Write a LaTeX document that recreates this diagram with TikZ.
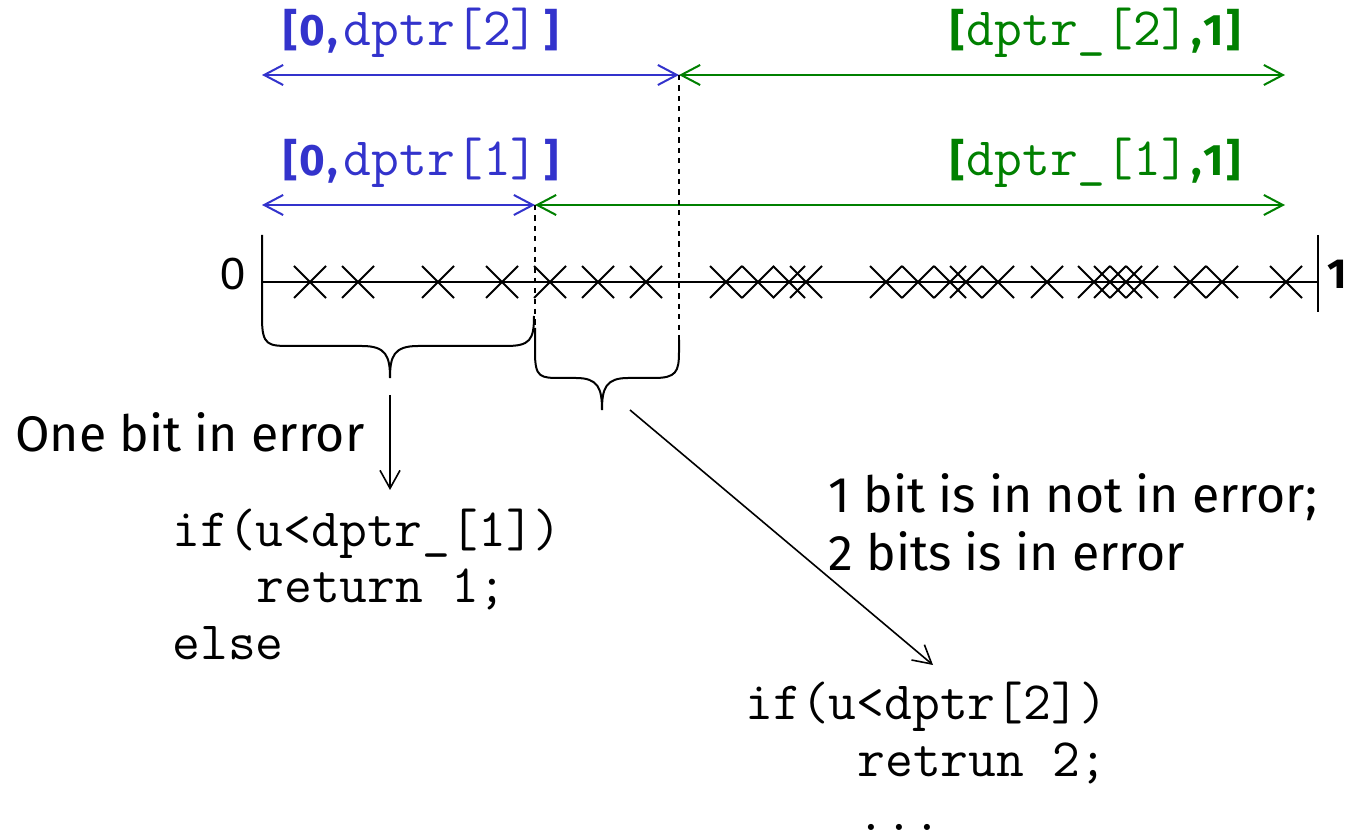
\documentclass[tikz,border=0pt]{standalone}
\usepackage{fontspec}
\usetikzlibrary{arrows.meta}
\newfontfamily\hand{Fira Sans}
\newfontfamily\arial{Liberation Sans}
\definecolor{rangeblue}{RGB}{51,51,204}
\definecolor{rangegreen}{RGB}{0,128,0}
\tikzset{
  axisline/.style={line width=1pt, black},
  xmark/.style={line width=1pt, black},
  interval/.style={line width=1pt, {Straight Barb[length=9.5pt,width=10pt]}-{Straight Barb[length=9.5pt,width=10pt]}},
  guide/.style={line width=0.7pt, dash pattern=on 2.6pt off 2.6pt},
  bracket/.style={line width=1pt},
  pointer/.style={line width=0.8pt, -{Straight Barb[length=9pt,width=10pt]}},
  code/.style={inner sep=0pt, anchor=base west, font=\ttfamily\fontsize{27}{28}\selectfont},
  handtext/.style={inner sep=0pt, anchor=base west, font=\hand\fontsize{25}{28}\selectfont},
  rangelabel/.style={inner sep=0pt, anchor=base west},
}
\newcommand{\bk}[1]{{\hand\bfseries\fontsize{22}{24}\selectfont #1}}
\newcommand{\mono}[1]{{\ttfamily\fontsize{27}{28}\selectfont #1}}
\begin{document}
\begin{tikzpicture}[x=0.5pt,y=-0.5pt]
\useasboundingbox (0,0) rectangle (1350,839);

% end points of the interval arrows
\coordinate (a0) at (262,75);
\coordinate (a2) at (679,75);
\coordinate (aE) at (1285,75);
\coordinate (b0) at (262,205);
\coordinate (b1) at (535,205);
\coordinate (bE) at (1285,205);

% interval labels
\node[rangelabel, text=rangeblue] (l02) at (283,46) {\bk{[\kern1pt0\kern1pt,}\kern3pt\mono{dptr[2]}\kern3pt\bk{]}};
\node[rangelabel, text=rangegreen] (l2E) at (950,46) {\bk{[}\kern1pt\mono{dptr\_[2]}\bk{\kern1pt,\kern1pt1\kern1pt]}};
\node[rangelabel, text=rangeblue] (l01) at (283,176) {\bk{[\kern1pt0\kern1pt,}\kern3pt\mono{dptr[1]}\kern3pt\bk{]}};
\node[rangelabel, text=rangegreen] (l1E) at (950,176) {\bk{[}\kern1pt\mono{dptr\_[1]}\bk{\kern1pt,\kern1pt1\kern1pt]}};

% interval arrows
\draw[interval, rangeblue] (a0) -- (a2);
\draw[interval, rangegreen] (a2) -- (aE);
\draw[interval, rangeblue] (b0) -- (b1);
\draw[interval, rangegreen] (b1) -- (bE);

% dashed guides down to the axis
\coordinate (g1) at (535,335);
\coordinate (g2) at (679,345);
\draw[guide] (b1) -- (g1);
\draw[guide] (a2) -- (g2);

% the unit interval with its end ticks
\coordinate (x0) at (262,282);
\coordinate (x1) at (1318,282);
\draw[axisline] (x0) -- (x1);
\draw[axisline] (1318,235) -- (1318,312);
\node[inner sep=0pt, font=\arial\fontsize{22.5}{24}\selectfont] (zero) at (233,274) {0};
\node[inner sep=0pt, anchor=west, font=\hand\bfseries\fontsize{21}{24}\selectfont] (one) at (1327,274) {1};

% sampled points
\foreach \p in {310,358,438,502,550,598,646,726,758,789,806,886,918,950,966,998,1047,1094,1110,1126,1142,1190,1222,1286}
  \draw[xmark] (\p-16,266) -- (\p+16,298) (\p-16,298) -- (\p+16,266);

% braces under the first two sub-intervals
\coordinate (t1) at (390,378);
\coordinate (t2) at (602,410);
\draw[bracket] (262,235) -- (262,318) .. controls (262,346) and (268,346) .. (292,346)
  -- (362,346) .. controls (386,346) and (390,356) .. (t1)
  .. controls (390,356) and (394,346) .. (418,346)
  -- (506,346) .. controls (530,346) and (534,340) .. (534,316);
\draw[bracket] (535,328) -- (535,352) .. controls (535,378) and (540,378) .. (562,378)
  -- (576,378) .. controls (598,378) and (602,388) .. (t2)
  .. controls (602,388) and (606,378) .. (628,378)
  -- (654,378) .. controls (676,378) and (679,372) .. (679,352) -- (679,340);

% pointers to the code
\coordinate (p1s) at (390,395);
\coordinate (p1e) at (390,490);
\coordinate (p2s) at (630,410);
\coordinate (p2e) at (933,665);
\draw[pointer] (p1s) -- (p1e);
\draw[pointer] (p2s) -- (p2e);

\node[handtext] (err1) at (15,452) {One bit in error};
\node[handtext] (err2a) at (828,513) {1 bit is in not in error;};
\node[handtext] (err2b) at (828,571) {2 bits is in error};

% code fragments
\node[code] (c1a) at (172,546) {if(u<dptr\_[1])};
\node[code] (c1b) at (256,603) {return 1;};
\node[code] (c1c) at (172,660) {else};
\node[code] (c2a) at (745,719) {if(u<dptr[2])};
\node[code] (c2b) at (857,776) {retrun 2;};
\node[code] (c2c) at (857,830) {...};
\end{tikzpicture}
\end{document}
